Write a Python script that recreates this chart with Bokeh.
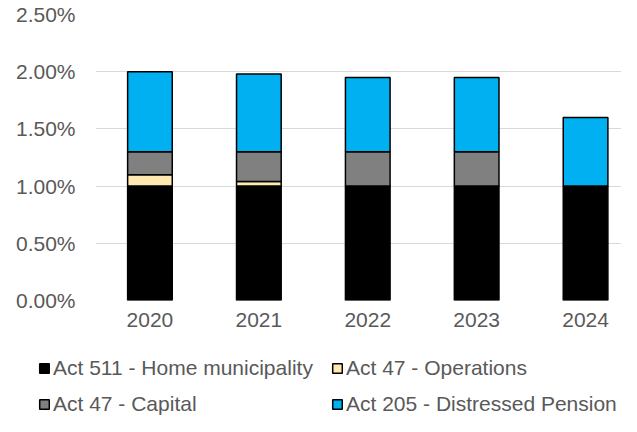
from bokeh.plotting import figure
from bokeh.layouts import column, row
from bokeh.models import (ColumnDataSource, Range1d, FixedTicker, NumeralTickFormatter,
                          Legend, LegendItem)
from bokeh.embed import file_html
from bokeh.resources import INLINE

years = [2020, 2021, 2022, 2023, 2024]
act_511_home = [0.0100, 0.0100, 0.0100, 0.0100, 0.0100]
act_47_operations = [0.0010, 0.0004, 0.0, 0.0, 0.0]
act_47_capital = [0.0020, 0.0026, 0.0030, 0.0030, 0.0]
act_205_pension = [0.0070, 0.0068, 0.0065, 0.0065, 0.0060]
y_ticks = [0.0, 0.005, 0.010, 0.015, 0.020, 0.025]
series_names = ["Act 511 - Home municipality", "Act 47 - Operations",
                "Act 47 - Capital", "Act 205 - Distressed Pension"]
colors = ["#000000", "#FFE9B0", "#808080", "#00B0F0"]
stackers = ["s511", "ops", "cap", "s205"]

FONT = "Liberation Sans"
TXT = "#595959"

source = ColumnDataSource(dict(year=years, s511=act_511_home, ops=act_47_operations,
                               cap=act_47_capital, s205=act_205_pension))

p = figure(width=621, height=336, output_backend="svg", toolbar_location=None,
           x_range=Range1d(2019.5, 2024.33), y_range=Range1d(0, 0.025),
           min_border_left=95, min_border_right=0, min_border_top=14, min_border_bottom=36)
p.outline_line_color = None
p.background_fill_color = "white"
p.border_fill_color = "white"

p.vbar_stack(stackers, x="year", width=0.41,
             fill_color=colors, line_color="black", line_width=1.5, source=source)

p.xgrid.grid_line_color = None
p.ygrid.grid_line_color = "#D9D9D9"
p.ygrid.grid_line_width = 1

xa = p.xaxis[0]
xa.ticker = FixedTicker(ticks=years)
xa.formatter = NumeralTickFormatter(format="0")
xa.axis_line_color = None
xa.major_tick_line_color = None
xa.minor_tick_line_color = None
xa.major_tick_out = 0
xa.major_tick_in = 0
xa.major_label_text_font = FONT
xa.major_label_text_font_size = "21px"
xa.major_label_text_color = TXT
xa.major_label_standoff = 12

ya = p.yaxis[0]
ya.ticker = FixedTicker(ticks=y_ticks)
ya.formatter = NumeralTickFormatter(format="0.00%")
ya.axis_line_color = None
ya.major_tick_line_color = None
ya.minor_tick_line_color = None
ya.major_tick_out = 0
ya.major_tick_in = 0
ya.major_label_text_font = FONT
ya.major_label_text_font_size = "21px"
ya.major_label_text_color = TXT
ya.major_label_standoff = 20

# legend strip below the chart (its bars lie outside its visible range)
pl = figure(width=621, height=80, output_backend="svg", toolbar_location=None,
            x_range=Range1d(0, 1), y_range=Range1d(10, 11),
            x_axis_location=None, y_axis_location=None,
            min_border=0, min_border_left=0, min_border_right=0,
            min_border_top=0, min_border_bottom=0)
pl.outline_line_color = None
pl.xgrid.visible = False
pl.ygrid.visible = False
leg_renderers = [pl.vbar(x="year", top=s, width=0.4, fill_color=c, line_color="black",
                         line_width=1.5, source=source) for s, c in zip(stackers, colors)]
items = [LegendItem(label=n, renderers=[r]) for n, r in zip(series_names, leg_renderers)]
legend = Legend(items=items, location=(38, 0), orientation="horizontal", ncols=2,
                padding=0, margin=0, spacing=12, label_standoff=3,
                glyph_width=12, glyph_height=12, label_height=20, label_width=266,
                label_text_font=FONT, label_text_font_size="21px",
                label_text_color=TXT, border_line_color=None,
                background_fill_alpha=0)
pl.add_layout(legend)

layout = column(p, row(pl), spacing=0)
open("out.html", "w").write(file_html(layout, INLINE))
